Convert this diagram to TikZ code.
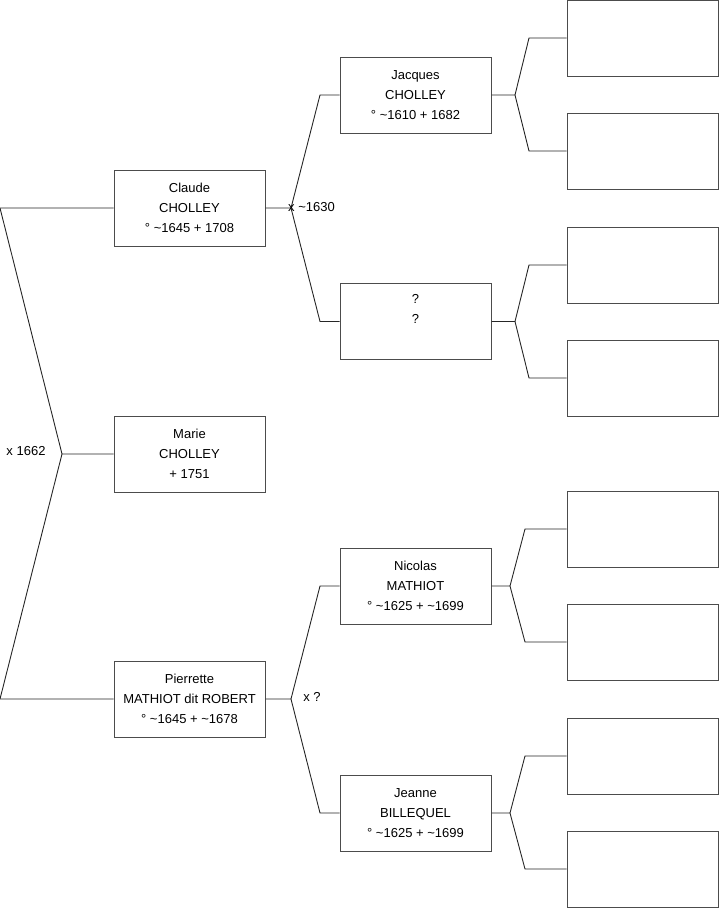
\documentclass[tikz,border=0pt]{standalone}
\usepackage{fontspec}
\setmainfont{Liberation Sans}
\begin{document}
\begin{tikzpicture}[x=1pt,y=-1pt,
  person/.style={draw=black!70,line width=1pt,minimum width=151pt,minimum height=76pt,inner sep=0pt,align=center,font=\fontsize{13}{20}\selectfont},
  empty/.style={person},
  link/.style={draw=black!85,line width=0.9pt},
  lbl/.style={font=\fontsize{13}{15}\selectfont,inner sep=0pt}]
\useasboundingbox (0,0) rectangle (719,908);
% persons
\node[person] (claude) at (189.5,208) {Claude\\CHOLLEY\\° \textasciitilde1645 + 1708};
\node[person] (marie) at (189.5,454) {Marie\\CHOLLEY\\+ 1751};
\node[person] (pierrette) at (189.5,699) {Pierrette\\MATHIOT dit ROBERT\\° \textasciitilde1645 + \textasciitilde1678};
\node[person] (jacques) at (415.5,95) {Jacques\\CHOLLEY\\° \textasciitilde1610 + 1682};
\node[person] (unk) at (415.5,321.5) {?\\?\\\strut};
\node[person] (nicolas) at (415.5,586) {Nicolas\\MATHIOT\\° \textasciitilde1625 + \textasciitilde1699};
\node[person] (jeanne) at (415.5,813) {Jeanne\\BILLEQUEL\\° \textasciitilde1625 + \textasciitilde1699};
% empty boxes
\node[empty] (e1) at (642.5,38) {};
\node[empty] (e2) at (642.5,151) {};
\node[empty] (e3) at (642.5,265) {};
\node[empty] (e4) at (642.5,378) {};
\node[empty] (e5) at (642.5,529) {};
\node[empty] (e6) at (642.5,642) {};
\node[empty] (e7) at (642.5,756) {};
\node[empty] (e8) at (642.5,869) {};
% left fork
\coordinate (l1) at (0,208);
\coordinate (lm) at (62,454);
\coordinate (l3) at (0,699);
\draw[link] (claude.west) -- (l1) -- (lm) -- (marie.west);
\draw[link] (lm) -- (l3) -- (pierrette.west);
\node[lbl] (m1) at (26,451) {x 1662};
% Claude fork
\coordinate (cf) at (291,208);
\coordinate (cf1) at (320,95);
\coordinate (cf2) at (320,321.5);
\draw[link] (claude.east) -- (cf) -- (cf1) -- (jacques.west);
\draw[link] (cf) -- (cf2) -- (unk.west);
\node[lbl,anchor=west] (m2) at (288,207) {x \textasciitilde1630};
% Pierrette fork
\coordinate (pf) at (291,699);
\coordinate (pf1) at (320,586);
\coordinate (pf2) at (320,813);
\draw[link] (pierrette.east) -- (pf) -- (pf1) -- (nicolas.west);
\draw[link] (pf) -- (pf2) -- (jeanne.west);
\node[lbl] (m3) at (312,697) {x ?};
% Jacques fork
\coordinate (jf) at (515,95);
\coordinate (jf1) at (529,38);
\coordinate (jf2) at (529,151);
\draw[link] (jacques.east) -- (jf) -- (jf1) -- (e1.west);
\draw[link] (jf) -- (jf2) -- (e2.west);
% ? fork
\coordinate (uf) at (515,321.5);
\coordinate (uf1) at (529,265);
\coordinate (uf2) at (529,378);
\draw[link] (unk.east) -- (uf) -- (uf1) -- (e3.west);
\draw[link] (uf) -- (uf2) -- (e4.west);
% Nicolas fork
\coordinate (nf) at (510,586);
\coordinate (nf1) at (525,529);
\coordinate (nf2) at (525,642);
\draw[link] (nicolas.east) -- (nf) -- (nf1) -- (e5.west);
\draw[link] (nf) -- (nf2) -- (e6.west);
% Jeanne fork
\coordinate (bf) at (510,813);
\coordinate (bf1) at (525,756);
\coordinate (bf2) at (525,869);
\draw[link] (jeanne.east) -- (bf) -- (bf1) -- (e7.west);
\draw[link] (bf) -- (bf2) -- (e8.west);
\end{tikzpicture}
\end{document}
